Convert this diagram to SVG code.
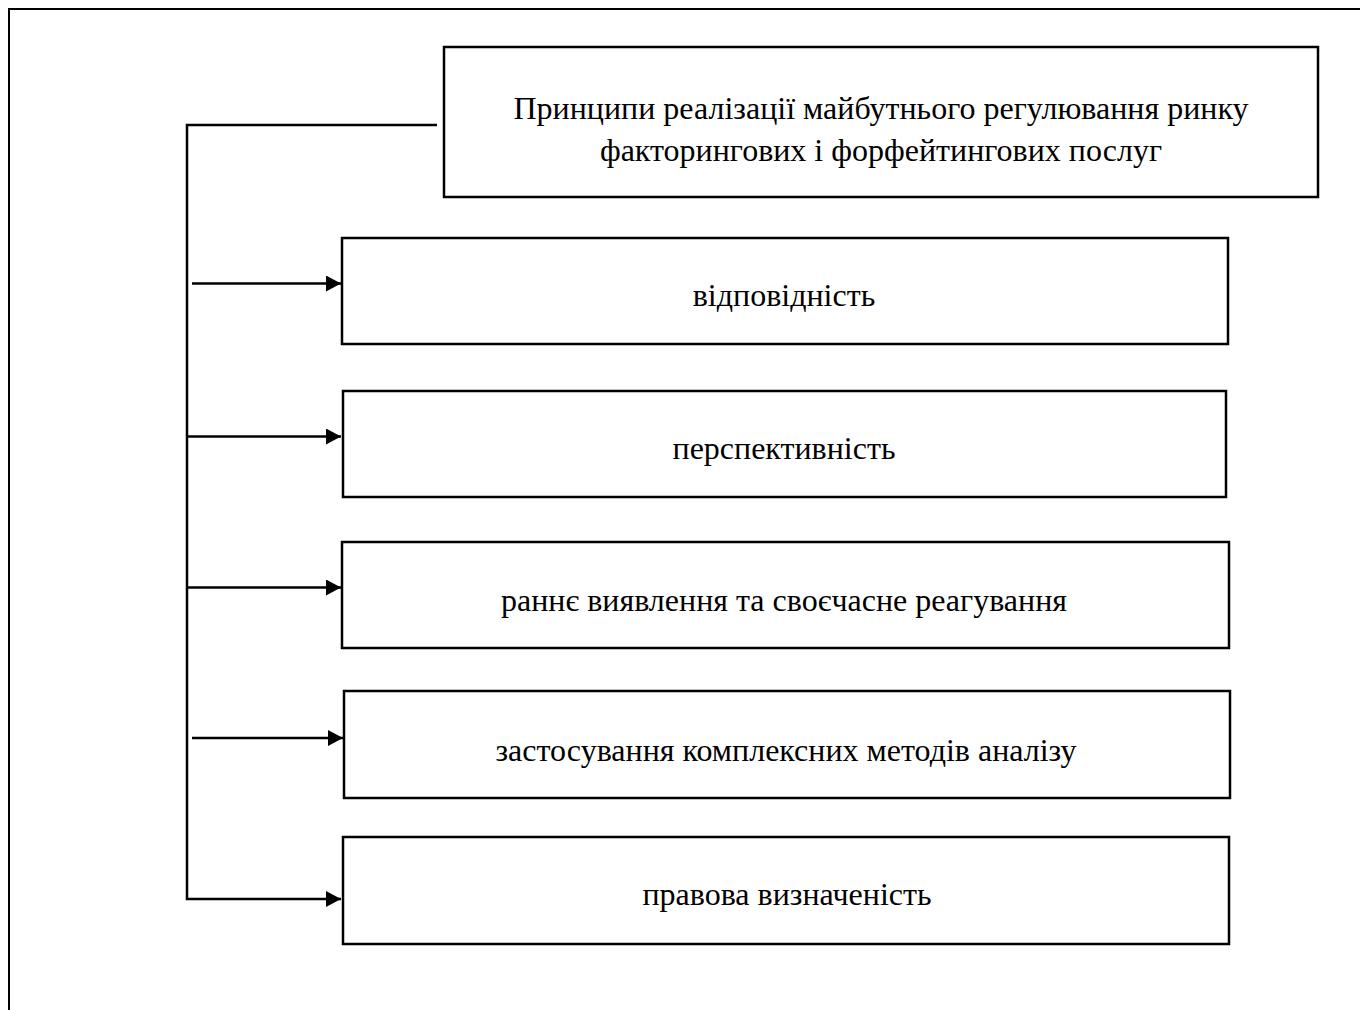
<svg xmlns="http://www.w3.org/2000/svg" width="1360" height="1010" viewBox="0 0 1360 1010">
  <style>
    .frame { fill: none; stroke: #000; stroke-width: 2; }
    .box { fill: #fff; stroke: #000; stroke-width: 2.5; }
    .line { fill: none; stroke: #000; stroke-width: 2.5; }
    .label { font-family: "Liberation Serif", "Times New Roman", serif; font-size: 32px; fill: #000; text-anchor: middle; }
  </style>
  <defs>
    <marker id="arrow" viewBox="0 0 15 16" refX="15" refY="8" markerWidth="15" markerHeight="16" markerUnits="userSpaceOnUse" orient="auto">
      <path d="M0,0 L15,8 L0,16 Z" fill="#000"/>
    </marker>
  </defs>

  <rect width="1360" height="1010" fill="#fff"/>
  <!-- page frame -->
  <path class="frame" d="M9,1010 V9 H1360"/>

  <!-- connectors -->
  <g id="connectors">
    <path class="line" d="M437,125 H187 V899 H341" marker-end="url(#arrow)"/>
    <line class="line" x1="192" y1="283.5" x2="341" y2="283.5" marker-end="url(#arrow)"/>
    <line class="line" x1="187" y1="436.5" x2="341" y2="436.5" marker-end="url(#arrow)"/>
    <line class="line" x1="187" y1="587.5" x2="341" y2="587.5" marker-end="url(#arrow)"/>
    <line class="line" x1="192" y1="738" x2="343" y2="738" marker-end="url(#arrow)"/>
  </g>

  <g id="root">
    <rect class="box" x="444" y="47" width="874" height="150"/>
    <text class="label" x="881" y="119">Принципи реалізації майбутнього регулювання ринку</text>
    <text class="label" x="881" y="161">факторингових і форфейтингових послуг</text>
  </g>

  <g id="node-1">
    <rect class="box" x="342" y="238" width="886" height="106"/>
    <text class="label" x="784" y="306">відповідність</text>
  </g>

  <g id="node-2">
    <rect class="box" x="343" y="391" width="883" height="106"/>
    <text class="label" x="784" y="459">перспективність</text>
  </g>

  <g id="node-3">
    <rect class="box" x="342" y="542" width="887" height="106"/>
    <text class="label" x="784" y="611">раннє виявлення та своєчасне реагування</text>
  </g>

  <g id="node-4">
    <rect class="box" x="344" y="691" width="886" height="107"/>
    <text class="label" x="786" y="761">застосування комплексних методів аналізу</text>
  </g>

  <g id="node-5">
    <rect class="box" x="343" y="837" width="886" height="107"/>
    <text class="label" x="787" y="905">правова визначеність</text>
  </g>
</svg>
